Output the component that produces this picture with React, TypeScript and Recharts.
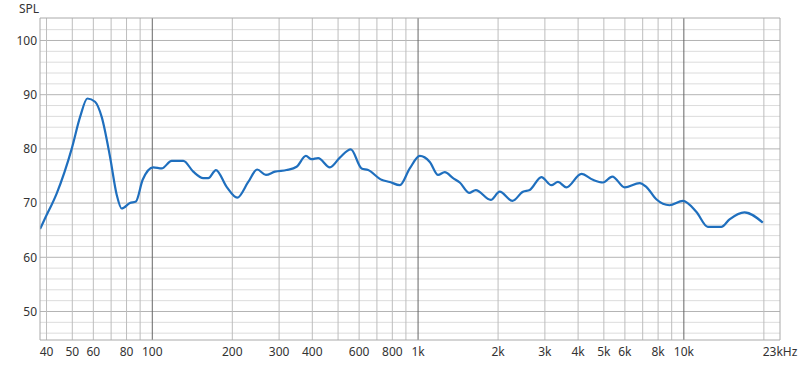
import React from "react";
import { LineChart, Line, XAxis, YAxis, ReferenceLine } from "recharts";

const freqs = [37.8, 39.5, 43.7, 49.8, 53.5, 57.0, 60.9, 64.5, 69.3, 73.5, 76.7, 82.4, 86.8, 92.0, 100.9, 108.5, 118.3, 130.8, 142.6, 155.5, 162.4, 173.6, 190.4, 208.7, 229.6, 248.1, 267.6, 289.3, 320.1, 349.1, 378.3, 397.4, 420.8, 465.6, 507.7, 558.5, 612.8, 648.6, 728.5, 782.9, 853.6, 930.6, 1015, 1107, 1189, 1260, 1354, 1435, 1555, 1648, 1877, 2028, 2264, 2481, 2630, 2910, 3172, 3360, 3613, 4116, 4550, 4961, 5380, 5986, 6816, 7221, 7876, 8835, 9913, 11135, 12310, 13050, 13823, 14853, 16911, 19815];
const spl = [65.2, 67.2, 71.8, 80.1, 85.9, 89.3, 88.7, 85.9, 78.6, 71.5, 69.0, 70.0, 70.3, 74.3, 76.6, 76.4, 77.8, 77.8, 75.8, 74.6, 74.6, 76.1, 73.0, 71.0, 73.9, 76.2, 75.2, 75.8, 76.1, 76.7, 78.7, 78.1, 78.3, 76.6, 78.4, 79.9, 76.4, 76.1, 74.3, 73.9, 73.3, 76.4, 78.7, 77.6, 75.2, 75.7, 74.6, 73.8, 71.9, 72.4, 70.6, 72.1, 70.4, 72.1, 72.4, 74.8, 73.3, 73.9, 72.9, 75.4, 74.3, 73.8, 74.9, 72.9, 73.7, 73.0, 70.7, 69.6, 70.4, 68.4, 65.6, 65.6, 65.6, 67.0, 68.3, 66.4];

const xTicks = [40, 50, 60, 80, 100, 200, 300, 400, 600, 800, 1000, 2000, 3000, 4000, 5000, 6000, 8000, 10000, 23000];
const yTicks = [50, 60, 70, 80, 90, 100];
const xGridMinor = [40, 50, 60, 70, 80, 90, 200, 300, 400, 500, 600, 700, 800, 900, 2000, 3000, 4000, 5000, 6000, 7000, 8000, 9000, 20000];
const xGridDecade = [100, 1000, 10000];
const yGridMinor = [46, 48, 52, 54, 56, 58, 62, 64, 66, 68, 72, 74, 76, 78, 82, 84, 86, 88, 92, 94, 96, 98, 102];
const yGridMajor = [50, 60, 70, 80, 90, 100];

const data = freqs.map((f, i) => ({ f, v: spl[i] }));

const fmtX = (v: number) => (v === 23000 ? "23kHz" : v >= 1000 ? `${v / 1000}k` : `${v}`);

const FONT = "'Noto Sans', sans-serif";

export default function App() {
  return (
    <div style={{ position: "absolute", left: 0, top: 0, width: 800, height: 365, background: "#fff", fontFamily: FONT }}>
      <div style={{ position: "absolute", left: 19, top: 0, fontSize: 12, color: "#333", lineHeight: "18px" }}>SPL</div>
      <LineChart width={800} height={365} data={data} margin={{ top: 18, right: 20, bottom: 0, left: 0 }}>
        <XAxis
          dataKey="f"
          type="number"
          scale="log"
          domain={[37.8, 23000]}
          allowDataOverflow
          ticks={xTicks}
          interval={0}
          height={25}
          tickFormatter={fmtX}
          tickLine={false}
          tickSize={0}
          tickMargin={7}
          axisLine={{ stroke: "#aaaaaa" }}
          tick={{ fontSize: 12, fill: "#333", fontFamily: FONT }}
        />
        <YAxis
          type="number"
          domain={[44.74, 104.15]}
          allowDataOverflow
          ticks={yTicks}
          interval={0}
          width={40}
          tickLine={false}
          tickSize={0}
          tickMargin={3}
          axisLine={{ stroke: "#aaaaaa" }}
          tick={{ fontSize: 12, fill: "#333", fontFamily: FONT }}
        />
        {yGridMinor.map((y) => (
          <ReferenceLine key={"ym" + y} y={y} stroke="#dcdcdc" strokeWidth={1} />
        ))}
        {yGridMajor.map((y) => (
          <ReferenceLine key={"yM" + y} y={y} stroke="#b4b4b4" strokeWidth={1} />
        ))}
        {xGridMinor.map((x) => (
          <ReferenceLine key={"xm" + x} x={x} stroke="#bdbdbd" strokeWidth={1} />
        ))}
        {xGridDecade.map((x) => (
          <ReferenceLine key={"xD" + x} x={x} stroke="#666666" strokeWidth={1} />
        ))}
        <ReferenceLine y={104.15} stroke="#aaaaaa" strokeWidth={1} />
        <ReferenceLine x={23000} stroke="#aaaaaa" strokeWidth={1} />
        <Line
          type="monotone"
          dataKey="v"
          stroke="#1f6fbe"
          strokeWidth={2.2}
          dot={false}
          activeDot={false}
          isAnimationActive={false}
        />
      </LineChart>
    </div>
  );
}
